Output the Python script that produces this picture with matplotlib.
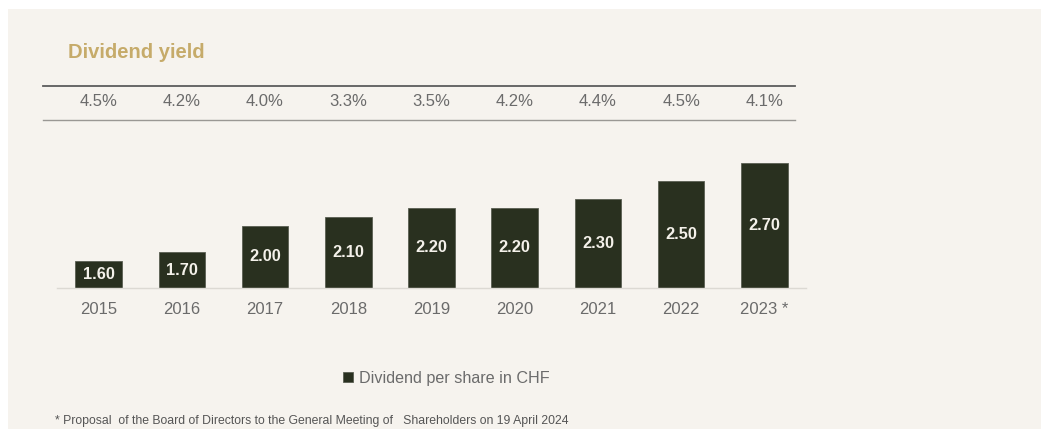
import matplotlib.pyplot as plt
from matplotlib.patches import Rectangle
from matplotlib.lines import Line2D
import matplotlib.transforms as mtransforms

plt.rcParams['font.family'] = ['Liberation Sans', 'DejaVu Sans']

# data
years = ["2015", "2016", "2017", "2018", "2019", "2020", "2021", "2022", "2023 *"]
dividend = [1.60, 1.70, 2.00, 2.10, 2.20, 2.20, 2.30, 2.50, 2.70]
yield_pct = ["4.5%", "4.2%", "4.0%", "3.3%", "3.5%", "4.2%", "4.4%", "4.5%", "4.1%"]

BG = "#f6f3ee"
BAR = "#29301f"
GREY = "#6b6b6b"
GOLD = "#c6ab6a"

W, H = 1045, 429
fig = plt.figure(figsize=(W / 100, H / 100), dpi=100)
fig.patch.set_facecolor("white")

# beige panel behind everything
fig.patches.append(Rectangle((8 / W, 0), 1033 / W, 420 / H, transform=fig.transFigure,
                             facecolor=BG, edgecolor="none", zorder=-10))

# title
fig.text(68 / W, 1 - 53 / H, "Dividend yield", color=GOLD, fontsize=14.5,
         fontweight="bold", va="center", ha="left")

# axes for the bars: x from 57 to 806 px, baseline at 288 px
ax = fig.add_axes([57 / W, (H - 288) / H, 749 / W, 151.5 / H])
ax.set_zorder(2)
ax.set_facecolor("none")
x = list(range(len(years)))
bars = ax.bar(x, dividend, width=0.56, bottom=0, color=BAR, edgecolor="#5a5e52",
              linewidth=0.6, zorder=3)
ax.set_xlim(-0.5, 8.5)
ax.set_ylim(1.3, 3.0)
ax.bar_label(bars, labels=[f"{v:.2f}" for v in dividend], label_type="center",
             color="#f4f1ea", fontsize=11.8, fontweight="bold")

ax.set_xticks(x)
ax.set_xticklabels(years, color=GREY, fontsize=12)
ax.tick_params(axis="x", length=0, pad=10)
ax.set_yticks([])
for s in ["top", "left", "right"]:
    ax.spines[s].set_visible(False)
ax.spines["bottom"].set_color("#dcd9d3")
ax.spines["bottom"].set_linewidth(1.0)
ax.spines["bottom"].set_zorder(4)

# yield row between two rules
trans = mtransforms.blended_transform_factory(ax.transData, fig.transFigure)
for xi, p in zip(x, yield_pct):
    ax.text(xi, 1 - 102 / H, p, transform=trans, ha="center", va="center",
            color=GREY, fontsize=12)
fig.add_artist(Line2D([43 / W, 795 / W], [1 - 86 / H] * 2, transform=fig.transFigure,
                      color="#5c5c5c", linewidth=1.3))
fig.add_artist(Line2D([43 / W, 795 / W], [1 - 120 / H] * 2, transform=fig.transFigure,
                      color="#9a9894", linewidth=1.0))

# legend
leg = fig.legend([bars[0]], ["Dividend per share in CHF"], loc="center left",
                 bbox_to_anchor=(337 / W, 1 - 378 / H), frameon=False,
                 fontsize=11.6, labelcolor=GREY, handlelength=0.6, handleheight=0.6,
                 handletextpad=0.35, borderaxespad=0)

# footnote
fig.text(55 / W, 1 - 421 / H,
         "* Proposal  of the Board of Directors to the General Meeting of   Shareholders on 19 April 2024",
         color="#555555", fontsize=8.8, va="center", ha="left")

fig.savefig("out.png", dpi=100, facecolor=fig.get_facecolor())
